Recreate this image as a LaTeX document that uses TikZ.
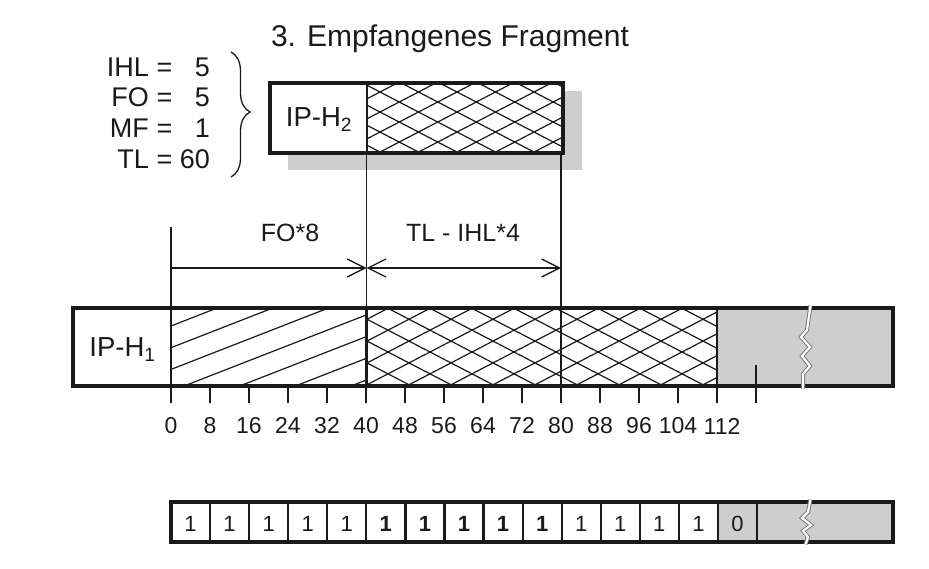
\documentclass[tikz,border=0pt]{standalone}
\usepackage{fontspec}
\setmainfont{Liberation Sans}
\usetikzlibrary{arrows.meta,decorations.pathreplacing}
\definecolor{fillgray}{HTML}{CECECE}
\definecolor{ink}{HTML}{1A1A1A}
\begin{document}
\begin{tikzpicture}[x=1pt,y=-1pt,
  >={Straight Barb[length=18pt,width=18pt]},
  boxline/.style={line width=3.2pt, draw=ink},
  divline/.style={line width=2.8pt, draw=ink},
  cellline/.style={line width=2.2pt, draw=ink},
  thinline/.style={line width=1.3pt, draw=ink},
  hatch/.style={line width=1.2pt, draw=ink},
  breakline/.style={draw=black!55, line width=0.9pt, double=white, double distance=2.2pt},
  txt/.style={inner sep=0pt, anchor=base, text=ink},
  ttl/.style={txt, font=\fontsize{30}{36}\selectfont},
  eqn/.style={txt, font=\fontsize{27}{32}\selectfont},
  hdr/.style={txt, font=\fontsize{27.5}{32}\selectfont},
  dimlbl/.style={txt, font=\fontsize{25}{30}\selectfont},
  ticklbl/.style={txt, font=\fontsize{23}{28}\selectfont},
  bitlbl/.style={txt, font=\fontsize{22}{26}\selectfont},
  boldbit/.style={txt, font=\fontsize{22}{26}\selectfont\bfseries},
]
\useasboundingbox (0,0) rectangle (929,569);

% ---------- title ----------
\node[ttl] (title) at (450,46.5) {3. Empfangenes Fragment};

% ---------- header values ----------
\node[eqn, anchor=base east] (ihl) at (149,76.7) {IHL};
\node[eqn] (ihleq) at (164.5,76.7) {=};
\node[eqn, anchor=base east] (ihlv) at (210,76.7) {5};
\node[eqn, anchor=base east] (fo) at (149,106.7) {FO};
\node[eqn] (foeq) at (164.5,106.7) {=};
\node[eqn, anchor=base east] (fov) at (210,106.7) {5};
\node[eqn, anchor=base east] (mf) at (149,138) {MF};
\node[eqn] (mfeq) at (164.5,138) {=};
\node[eqn, anchor=base east] (mfv) at (210,138) {1};
\node[eqn, anchor=base east] (tl) at (149,168.3) {TL};
\node[eqn] (tleq) at (164.5,168.3) {=};
\node[eqn, anchor=base east] (tlv) at (210,168.3) {60};

\coordinate (braceTop) at (231,52);
\coordinate (braceBot) at (231,177);
\draw[thinline, decorate, decoration={brace, amplitude=19pt, aspect=0.48}] (braceTop) -- (braceBot);

% ---------- received fragment ----------
\fill[fillgray] (288,91) rectangle (582,170);
\fill[white] (270,83) rectangle (563,153);
\begin{scope}
  \clip (366,83) rectangle (563,153);
  \foreach \k in {-9,...,9} {
    \draw[hatch] ({380+\k*38.5-200},{92-200*0.52}) -- ({380+\k*38.5+200},{92+200*0.52});
    \draw[hatch] ({380+\k*38.5-200},{92+200*0.52}) -- ({380+\k*38.5+200},{92-200*0.52});
  }
\end{scope}
\draw[boxline] (270,83) rectangle (563,153);
\draw[divline] (367,83) -- (367,153);
\node[hdr] (iph2) at (319,126.7) {IP-H\textsubscript{2}};

% ---------- main datagram bar ----------
\fill[white] (73,308) rectangle (717,386);
\fill[fillgray] (717,308) rectangle (893,386);
\begin{scope}
  \clip (171,308) rectangle (366,386);
  \foreach \k in {-2,...,8} {
    \draw[hatch] (150,{326+21.7*\k+0.39*21}) -- (380,{326+21.7*\k-0.39*209});
  }
\end{scope}
\begin{scope}
  \clip (366,308) rectangle (717,386);
  \foreach \k in {-12,...,12} {
    \draw[hatch] ({598+\k*42-200},{352-200*0.52}) -- ({598+\k*42+200},{352+200*0.52});
    \draw[hatch] ({598+\k*42-200},{352+200*0.52}) -- ({598+\k*42+200},{352-200*0.52});
  }
\end{scope}
\draw[boxline] (73,308) rectangle (893,386);
\draw[divline] (171,308) -- (171,386);
\draw[line width=3.6pt, draw=ink] (366.5,308) -- (366.5,386);
\draw[divline] (561,308) -- (561,386);
\draw[divline] (717,308) -- (717,386);
\draw[breakline] (810.5,305.5) -- (807,330) -- (801,337) -- (810,347) -- (802,356) -- (810,366) -- (803,374) -- (803,389);
\node[hdr] (iph1) at (122.5,356.7) {IP-H\textsubscript{1}};

% ---------- ticks and scale ----------
\foreach \i in {0,...,14} {
  \draw[thinline] ({171+39*\i},386) -- ({171+39*\i},403);
}
\draw[thinline] (756,365) -- (756,403);
\foreach \v in {0,8,16,24,32,40,48,56,64,72,80,88,96,104} {
  \node[ticklbl] (t\v) at ({171+4.875*\v},433.3) {\v};
}
\node[ticklbl] (t112) at (722,434.5) {112};

% ---------- dimension lines ----------
\coordinate (v0top) at (171,227);
\coordinate (v0bar) at (171,308);
\coordinate (v40top) at (366.5,153);
\coordinate (v40bar) at (366.5,308);
\coordinate (v80top) at (561,153);
\coordinate (v80bar) at (561,308);
\draw[thinline] (v0top) -- (v0bar);
\draw[thinline] (v40top) -- (v40bar);
\draw[thinline] (v80top) -- (v80bar);
\coordinate (d0) at (171,268);
\coordinate (d40) at (366.5,268);
\coordinate (d80) at (561,268);
\draw[thinline, ->] (d0) -- (d40);
\draw[thinline, <->] (d40) -- (d80);
\node[dimlbl] (fo8) at (290,241.7) {FO*8};
\node[dimlbl] (tlihl) at (463,241.7) {TL - IHL*4};

% ---------- bit vector ----------
\fill[white] (171,502) rectangle (717,542);
\fill[fillgray] (717,502) rectangle (893,542);
\foreach \k in {1,...,15} {
  \draw[cellline] ({171+39.07*\k},502) -- ({171+39.07*\k},542);
}
\draw[boxline] (171,502) rectangle (893,542);
\foreach \k in {0,1,2,3,4,10,11,12,13} {
  \node[bitlbl] (b\k) at ({171+39.07*\k+19.5},531.7) {1};
}
\foreach \k in {5,6,7,8,9} {
  \node[boldbit] (b\k) at ({171+39.07*\k+19.5},531.7) {1};
}
\node[bitlbl] (b14) at ({171+39.07*14+19.5},531.7) {0};
\draw[breakline] (810.5,499.5) -- (808,512) -- (802,518) -- (811,525) -- (803,531) -- (808,537) -- (805.5,544.5);

\end{tikzpicture}
\end{document}
